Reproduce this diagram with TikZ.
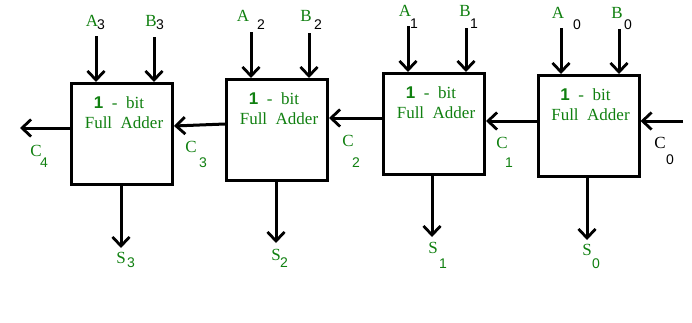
\documentclass[tikz,border=0pt]{standalone}
\usepackage{fontspec}
\setmainfont{Liberation Serif}
\newfontfamily\digfont{Liberation Sans}
\usetikzlibrary{arrows.meta}
\definecolor{lblgreen}{RGB}{16,128,16}
\tikzset{
  fabox/.style={draw=black, line width=3pt, minimum width=101pt, minimum height=101pt, inner sep=0pt},
  wire/.style={line width=3pt, -{Straight Barb[length=9pt,width=17pt,line width=2.8pt]}},
  intext/.style={text=lblgreen, font=\fontsize{17}{19}\selectfont, inner sep=0pt},
  letter/.style={text=lblgreen, font=\fontsize{17}{19}\selectfont, inner sep=0pt},
  subg/.style={text=lblgreen, font=\digfont\fontsize{14}{16}\selectfont, inner sep=0pt},
  subk/.style={text=black, font=\digfont\fontsize{14}{16}\selectfont, inner sep=0pt},
  letk/.style={text=black, font=\fontsize{17}{19}\selectfont, inner sep=0pt},
}
\begin{document}
\begin{tikzpicture}[x=1pt,y=-1pt]
\useasboundingbox[fill=white] (0,0) rectangle (692,322);
% boxes
\node[fabox] (fa3) at (122,134) {};
\node[fabox] (fa2) at (277,130) {};
\node[fabox] (fa1) at (434,124) {};
\node[fabox] (fa0) at (588.5,126) {};
% inner texts
\foreach \b in {fa3,fa2,fa1,fa0}{
  \node[intext] (\b t1) at ([xshift=-3pt,yshift=-21pt]\b.north) {{\digfont\fontseries{b}\selectfont 1}\ \ -\ \ bit};
  \node[intext] (\b t2) at ([xshift=2pt,yshift=-41pt]\b.north) {Full\ \ Adder};
}
% input start coordinates
\coordinate (a3s) at (96,36);  \coordinate (b3s) at (154,37);
\coordinate (a2s) at (251,32); \coordinate (b2s) at (309,33);
\coordinate (a1s) at (408,26); \coordinate (b1s) at (466,28);
\coordinate (a0s) at (561,28); \coordinate (b0s) at (619,29);
\draw[wire] (a3s) -- (a3s |- fa3.north);
\draw[wire] (b3s) -- (b3s |- fa3.north);
\draw[wire] (a2s) -- (a2s |- fa2.north);
\draw[wire] (b2s) -- (b2s |- fa2.north);
\draw[wire] (a1s) -- (a1s |- fa1.north);
\draw[wire] (b1s) -- (b1s |- fa1.north);
\draw[wire] (a0s) -- (a0s |- fa0.north);
\draw[wire] (b0s) -- (b0s |- fa0.north);
% sum outputs
\coordinate (s3e) at (121,248);
\coordinate (s2e) at (276,243);
\coordinate (s1e) at (432,237);
\coordinate (s0e) at (587,240);
\draw[wire] (s3e |- fa3.south) -- (s3e);
\draw[wire] (s2e |- fa2.south) -- (s2e);
\draw[wire] (s1e |- fa1.south) -- (s1e);
\draw[wire] (s0e |- fa0.south) -- (s0e);
% carries
\coordinate (c0s) at (683,121);
\coordinate (c4e) at (20,128);
\draw[wire] (c0s) -- ([yshift=5pt]fa0.east);
\draw[wire] ([yshift=5pt]fa0.west) -- ([yshift=3pt]fa1.east);
\draw[wire] ([yshift=6pt]fa1.west) -- ([yshift=12pt]fa2.east);
\draw[wire] ([yshift=6pt]fa2.west) -- ([yshift=8pt]fa3.east);
\draw[wire] ([yshift=6pt]fa3.west) -- (c4e);
% A/B labels
\node[letter] (la3) at (92,21) {A};  \node[subk] (la3s) at (101,25) {3};
\node[letter] (lb3) at (151,21) {B}; \node[subk] (lb3s) at (160,25) {3};
\node[letter] (la2) at (243,16) {A}; \node[subk] (la2s) at (261,25) {2};
\node[letter] (lb2) at (306,16) {B}; \node[subk] (lb2s) at (318,25) {2};
\node[letter] (la1) at (405,11) {A}; \node[subk] (la1s) at (414,24) {1};
\node[letter] (lb1) at (465,11) {B}; \node[subk] (lb1s) at (474,24) {1};
\node[letter] (la0) at (558,13) {A}; \node[subk] (la0s) at (577,25) {0};
\node[letter] (lb0) at (617,13) {B}; \node[subk] (lb0s) at (628,25) {0};
% sum labels
\node[letter] (ls3) at (121,258) {S}; \node[subg] (ls3s) at (131,263) {3};
\node[letter] (ls2) at (276,255) {S}; \node[subg] (ls2s) at (284,263) {2};
\node[letter] (ls1) at (433,248) {S}; \node[subg] (ls1s) at (443,264) {1};
\node[letter] (ls0) at (587,250) {S}; \node[subg] (ls0s) at (596,264) {0};
% carry labels
\node[letter] (lc4) at (36,151) {C};  \node[subg] (lc4s) at (44,163) {4};
\node[letter] (lc3) at (191,147) {C}; \node[subg] (lc3s) at (203,163) {3};
\node[letter] (lc2) at (348,141) {C}; \node[subg] (lc2s) at (356,163) {2};
\node[letter] (lc1) at (502,143) {C}; \node[subg] (lc1s) at (509,163) {1};
\node[letk] (lc0) at (660,143) {C};   \node[subk] (lc0s) at (670,160) {0};
\end{tikzpicture}
\end{document}
